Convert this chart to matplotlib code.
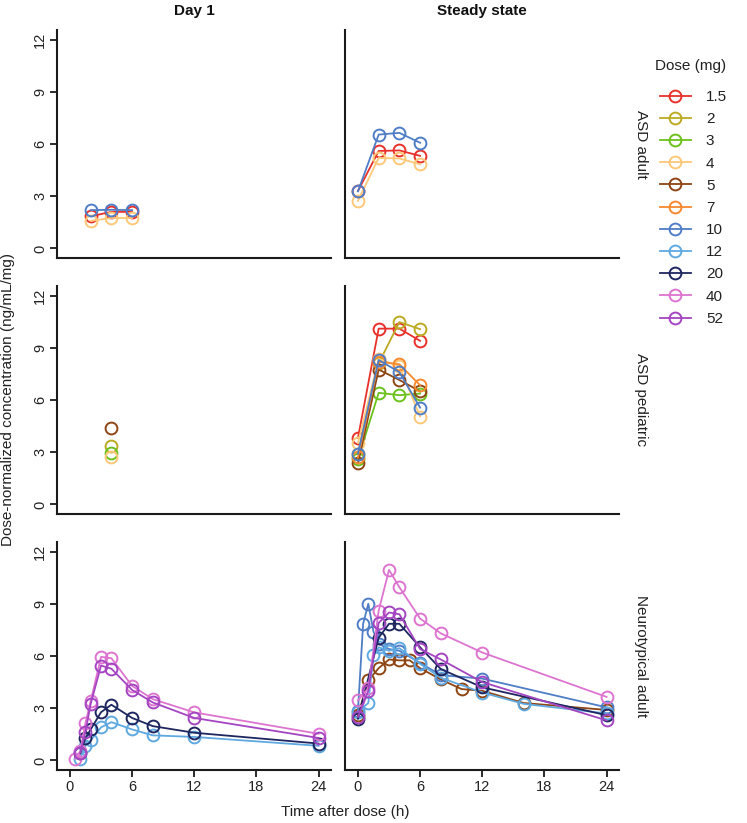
import matplotlib
matplotlib.use('Agg')
import matplotlib.pyplot as plt
from matplotlib.lines import Line2D

plt.rcParams['font.family'] = ['Liberation Sans', 'DejaVu Sans']

# ---------------- data ----------------
dose_labels = ['1.5', '2', '3', '4', '5', '7', '10', '12', '20', '40', '52']
dose_colors = ['#E8312A', '#BCAA22', '#6CC11C', '#FDC878', '#8E4514', '#F7892F',
               '#4F7DC6', '#5FA9E0', '#1E2660', '#DD74CF', '#A445C2']

col_titles = ['Day 1', 'Steady state']
row_titles = ['ASD adult', 'ASD pediatric', 'Neurotypical adult']

# ASD adult, Day 1
aa_d1_t = [2, 4, 6]
aa_d1_1p5 = [1.85, 2.1, 2.1]
aa_d1_4 = [1.58, 1.75, 1.75]
aa_d1_10 = [2.2, 2.22, 2.2]

# ASD adult, steady state
aa_ss_t = [0, 2, 4, 6]
aa_ss_1p5 = [3.3, 5.6, 5.63, 5.32]
aa_ss_4 = [2.73, 5.2, 5.17, 4.83]
aa_ss_10 = [3.28, 6.54, 6.64, 6.07]

# ASD pediatric, Day 1
ap_d1_t = [4]
ap_d1_2 = [3.34]
ap_d1_3 = [2.97]
ap_d1_4 = [2.74]
ap_d1_5 = [4.39]

# ASD pediatric, steady state
ap_ss_t = [0, 2, 4, 6]
ap_ss_1p5 = [3.82, 10.1, 10.1, 9.4]
ap_ss_2 = [2.9, 8.1, 10.48, 10.07]
ap_ss_3 = [2.6, 6.41, 6.28, 6.37]
ap_ss_4 = [3.53, 8.35, 7.95, 5.05]
ap_ss_5 = [2.36, 7.75, 7.15, 6.5]
ap_ss_7 = [2.7, 8.2, 8.05, 6.85]
ap_ss_10 = [2.91, 8.3, 7.6, 5.56]

# Neurotypical adult, Day 1
na_d1_t12 = [1, 1.5, 2, 3, 4, 6, 8, 12, 24]
na_d1_12 = [0.1, 0.85, 1.15, 1.9, 2.2, 1.78, 1.44, 1.35, 0.84]
na_d1_t20 = [1, 1.5, 2, 3, 4, 6, 8, 12, 24]
na_d1_20 = [0.4, 1.3, 1.78, 2.77, 3.2, 2.44, 1.97, 1.59, 0.97]
na_d1_t40 = [0.5, 1, 1.5, 2, 3, 4, 6, 8, 12, 24]
na_d1_40 = [0.1, 0.53, 2.16, 3.4, 5.95, 5.87, 4.28, 3.52, 2.76, 1.53]
na_d1_t52 = [1, 1.5, 2, 3, 4, 6, 8, 12, 24]
na_d1_52 = [0.45, 1.65, 3.24, 5.45, 5.27, 4.05, 3.33, 2.44, 1.29]

# Neurotypical adult, steady state
na_ss_t5 = [0, 1, 2, 3, 4, 5, 6, 8, 10, 12, 16, 24]
na_ss_5 = [2.6, 4.6, 5.3, 5.8, 5.75, 5.75, 5.3, 4.65, 4.1, 4.0, 3.3, 2.9]
na_ss_t10 = [0, 0.5, 1, 1.5, 2, 3, 4, 6, 8, 12, 24]
na_ss_10 = [2.85, 7.85, 9.0, 7.4, 6.7, 6.4, 6.3, 5.6, 4.9, 4.7, 3.05]
na_ss_t12 = [0, 1, 1.5, 2, 3, 4, 6, 8, 12, 16, 24]
na_ss_12 = [2.8, 3.3, 6.05, 6.5, 6.3, 6.45, 5.55, 4.75, 3.9, 3.25, 2.7]
na_ss_t20 = [0, 2, 3, 4, 6, 8, 12, 24]
na_ss_20 = [2.4, 7.05, 7.85, 7.85, 6.5, 5.25, 4.2, 2.6]
na_ss_t40 = [0, 1, 2, 3, 4, 6, 8, 12, 24]
na_ss_40 = [3.45, 4.15, 8.6, 10.95, 9.95, 8.15, 7.3, 6.2, 3.65]
na_ss_t52 = [0, 1, 2, 3, 4, 6, 8, 12, 24]
na_ss_52 = [2.5, 4.0, 7.9, 8.5, 8.4, 6.4, 5.8, 4.5, 2.3]

panels = {
    (0, 0): [('1.5', aa_d1_t, aa_d1_1p5), ('4', aa_d1_t, aa_d1_4), ('10', aa_d1_t, aa_d1_10)],
    (0, 1): [('1.5', aa_ss_t, aa_ss_1p5), ('4', aa_ss_t, aa_ss_4), ('10', aa_ss_t, aa_ss_10)],
    (1, 0): [('2', ap_d1_t, ap_d1_2), ('3', ap_d1_t, ap_d1_3), ('4', ap_d1_t, ap_d1_4),
             ('5', ap_d1_t, ap_d1_5)],
    (1, 1): [('1.5', ap_ss_t, ap_ss_1p5), ('2', ap_ss_t, ap_ss_2), ('3', ap_ss_t, ap_ss_3),
             ('4', ap_ss_t, ap_ss_4), ('5', ap_ss_t, ap_ss_5), ('7', ap_ss_t, ap_ss_7),
             ('10', ap_ss_t, ap_ss_10)],
    (2, 0): [('12', na_d1_t12, na_d1_12), ('20', na_d1_t20, na_d1_20),
             ('40', na_d1_t40, na_d1_40), ('52', na_d1_t52, na_d1_52)],
    (2, 1): [('5', na_ss_t5, na_ss_5), ('10', na_ss_t10, na_ss_10), ('12', na_ss_t12, na_ss_12),
             ('20', na_ss_t20, na_ss_20), ('40', na_ss_t40, na_ss_40), ('52', na_ss_t52, na_ss_52)],
}

x_ticks = [0, 6, 12, 18, 24]
y_ticks = [0, 3, 6, 9, 12]

# ---------------- figure ----------------
W, H = 747, 823
fig = plt.figure(figsize=(W / 100, H / 100), dpi=100)

col_x = [57, 345]
col_w = 274
row_top = [30, 286, 542]
row_h = 228

color_of = dict(zip(dose_labels, dose_colors))
lw = 1.3
ms = 8.5
mew = 1.4
spine_col = '#1a1a1a'

for r in range(3):
    for c in range(2):
        ax = fig.add_axes([col_x[c] / W, 1 - (row_top[r] + row_h) / H, col_w / W, row_h / H])
        for dose, t, v in panels[(r, c)]:
            ax.plot(t, v, '-o', color=color_of[dose], lw=lw, ms=ms, mfc='none',
                    mec=color_of[dose], mew=mew, clip_on=False)
        ax.set_xlim(-1.25, 25.2)
        ax.set_ylim(-0.55, 12.55)
        ax.set_xticks(x_ticks)
        ax.set_yticks(y_ticks)
        for s in ['top', 'right']:
            ax.spines[s].set_visible(False)
        for s in ['left', 'bottom']:
            ax.spines[s].set_linewidth(1.5)
            ax.spines[s].set_color(spine_col)
        ax.tick_params(axis='both', direction='out', length=5, width=1.3, color=spine_col,
                       labelsize=10.5, labelcolor='#222222', pad=2)
        if c == 0:
            ax.set_yticklabels([str(y) for y in y_ticks], rotation=90, va='center')
        else:
            ax.tick_params(axis='y', length=0, labelleft=False)
        if r < 2:
            ax.tick_params(axis='x', length=0, labelbottom=False)
        if c == 1:
            fig.text(641 / W, 1 - (row_top[r] + row_h / 2) / H, row_titles[r], rotation=270,
                     ha='center', va='center', fontsize=11, color='#222222')

for c in range(2):
    fig.text((col_x[c] + col_w / 2) / W, 1 - 11 / H, col_titles[c], ha='center', va='center',
             fontsize=11, fontweight='bold', color='#111111')

fig.text(8 / W, 1 - 400 / H, 'Dose-normalized concentration (ng/mL/mg)', rotation=90,
         ha='center', va='center', fontsize=11, color='#222222')
fig.text(345 / W, 1 - 812 / H, 'Time after dose (h)', ha='center', va='center',
         fontsize=11, color='#222222')

# legend
fig.text(655 / W, 1 - 66 / H, 'Dose (mg)', ha='left', va='center', fontsize=11, color='#222222')
handles = [Line2D([0], [0], color=col, lw=lw, marker='o', ms=ms, mfc='none', mec=col, mew=mew)
           for col in dose_colors]
leg = fig.legend(handles, dose_labels, loc='upper left',
                 bbox_to_anchor=(654 / W, 1 - 84 / H), frameon=False, fontsize=11,
                 handlelength=2.0, handletextpad=1.0, labelspacing=0.535,
                 borderaxespad=0)
for txt in leg.get_texts():
    txt.set_color('#222222')

fig.savefig('out.png', dpi=100)
